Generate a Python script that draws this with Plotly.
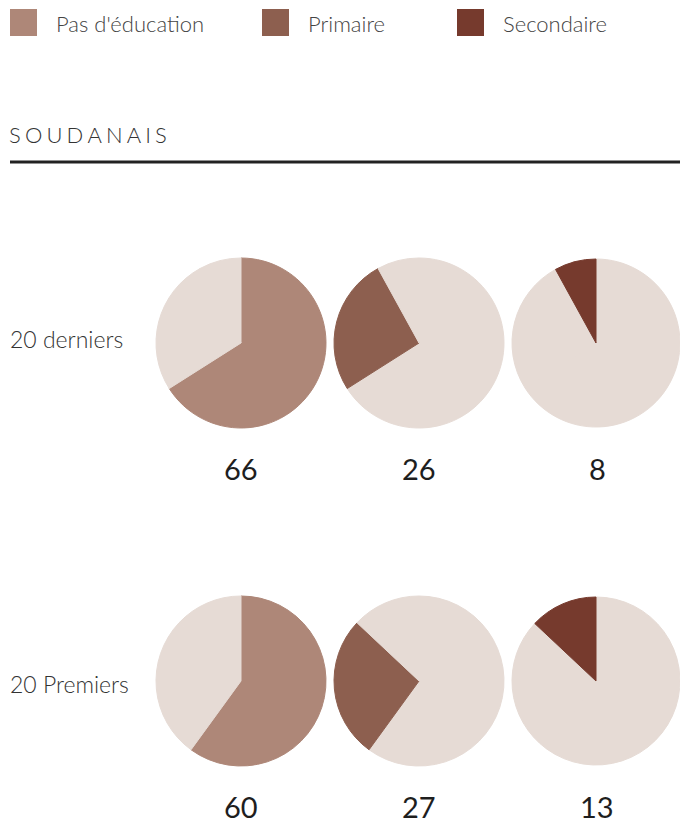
import plotly.graph_objects as go

# Education level shares (%) for two groups of Sudanese households
levels = ["Pas d'éducation", "Primaire", "Secondaire"]
groups = ["20 derniers", "20 Premiers"]
shares = {
    "20 derniers": [66, 26, 8],
    "20 Premiers": [60, 27, 13],
}
level_colors = ["#ae8778", "#8d5f4f", "#763a2d"]
rest_color = "#e6dbd5"
section_title = "SOUDANAIS"

W, H = 680, 826
FONT = "Lato"


def px_x(x):
    return x / W


def px_y(y):
    return 1 - y / H


fig = go.Figure()

# one row of three pies per group; each pie highlights one education level
row_centers = [343, 681]
col_centers = [241, 419, 597]
R = 85

for gi, g in enumerate(groups):
    cy = row_centers[gi]
    for li, lvl in enumerate(levels):
        cx = col_centers[li]
        colors = [level_colors[k] if k == li else rest_color for k in range(len(levels))]
        x0 = max(cx - R, 0)
        x1 = min(cx + R, W)
        fig.add_trace(go.Pie(
            labels=levels,
            values=shares[g],
            sort=False,
            direction="clockwise",
            rotation=0,
            # outline each slice in its own fill so neighbouring pale slices blend
            marker=dict(colors=colors, line=dict(color=colors, width=1)),
            textinfo="none",
            hoverinfo="label+value",
            showlegend=False,
            domain=dict(x=[px_x(x0), px_x(x1)], y=[px_y(cy + R), px_y(cy - R)]),
        ))
        # value label under each pie
        fig.add_annotation(
            x=px_x(cx), y=px_y(cy + 125), xref="paper", yref="paper",
            text=str(shares[g][li]), showarrow=False,
            font=dict(family=FONT, size=29, color="#1e1e1e"),
            xanchor="center", yanchor="middle",
        )
    # group label on the left
    fig.add_annotation(
        x=px_x(8), y=px_y(cy - 4 if gi == 0 else cy + 3), xref="paper", yref="paper",
        text=g, showarrow=False,
        font=dict(family=FONT, size=23, color="#333333", weight=300),
        xanchor="left", yanchor="middle",
    )

# legend: coloured squares with labels
legend_x = [10, 262, 457]
shapes = []
for lvl, col, lx in zip(levels, level_colors, legend_x):
    shapes.append(dict(
        type="rect", xref="paper", yref="paper",
        x0=px_x(lx), x1=px_x(lx + 27), y0=px_y(36), y1=px_y(9),
        fillcolor=col, line=dict(width=0),
    ))
    fig.add_annotation(
        x=px_x(lx + 44), y=px_y(24), xref="paper", yref="paper",
        text=lvl, showarrow=False,
        font=dict(family=FONT, size=22, color="#444444", weight=300),
        xanchor="left", yanchor="middle",
    )

# section header with rule underneath
fig.add_annotation(
    x=px_x(7), y=px_y(134), xref="paper", yref="paper",
    text="\u2009\u200a".join(section_title), showarrow=False,
    font=dict(family=FONT, size=22, color="#333333", weight=300),
    xanchor="left", yanchor="middle",
)
shapes.append(dict(
    type="line", xref="paper", yref="paper",
    x0=px_x(10), x1=1, y0=px_y(162), y1=px_y(162),
    line=dict(color="#222222", width=3),
))

fig.update_layout(
    width=W, height=H,
    margin=dict(l=0, r=0, t=0, b=0),
    paper_bgcolor="white",
    plot_bgcolor="white",
    shapes=shapes,
    showlegend=False,
)

fig.write_html("out.html")
